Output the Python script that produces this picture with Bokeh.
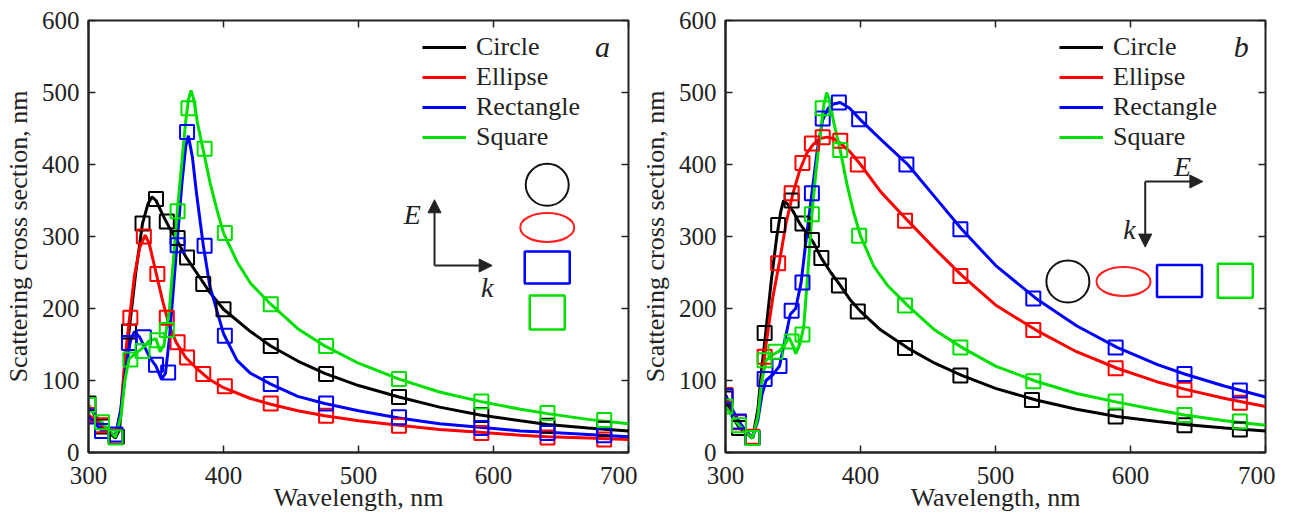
from bokeh.plotting import figure
from bokeh.layouts import row
from bokeh.models import (Range1d, LinearAxis, FixedTicker, Legend, LegendItem,
                          Label, Arrow, NormalHead)
from bokeh.embed import file_html
from bokeh.resources import INLINE

# ---------------- data: panel a ----------------
black_a_curve_x = [300, 305, 310, 315, 320, 323, 327, 330, 335, 340, 344, 347, 350, 355, 360, 365, 372, 380, 390, 400, 420, 435, 455, 475, 500, 530, 560, 590, 620, 640, 670, 700]
black_a_curve_y = [66, 50, 36, 28, 20, 32, 120, 168, 250, 318, 345, 355, 350, 330, 312, 297, 272, 250, 222, 199, 168, 148, 127, 110, 93, 77, 63, 52, 44, 39, 34, 30]
red_a_curve_x = [300, 305, 310, 315, 320, 324, 327, 330, 334, 338, 342, 345, 350, 355, 360, 365, 372, 380, 390, 400, 420, 435, 455, 475, 500, 530, 560, 590, 620, 640, 670, 700]
red_a_curve_y = [52, 45, 38, 30, 22, 60, 130, 180, 245, 285, 302, 290, 250, 210, 175, 153, 132, 117, 101, 90, 75, 67, 58, 51, 44, 38, 32, 28, 24, 22, 20, 18]
blue_a_curve_x = [300, 305, 310, 315, 320, 324, 328, 331, 334, 338, 342, 346, 350, 354, 357, 360, 363, 366, 369, 372, 374, 377, 380, 385, 390, 400, 410, 420, 435, 455, 475, 500, 530, 560, 590, 620, 640, 670, 700]
blue_a_curve_y = [50, 40, 30, 27, 24, 60, 120, 155, 168, 160, 145, 130, 120, 102, 110, 160, 230, 300, 370, 425, 440, 410, 360, 288, 230, 165, 128, 110, 95, 78, 68, 58, 48, 40, 35, 30, 28, 25, 22]
green_a_curve_x = [300, 305, 310, 315, 320, 324, 327, 330, 335, 340, 345, 350, 353, 356, 360, 363, 366, 369, 372, 374, 376, 378, 381, 385, 390, 395, 400, 410, 420, 435, 455, 475, 500, 530, 560, 590, 620, 640, 670, 700]
green_a_curve_y = [66, 52, 42, 32, 21, 50, 100, 130, 138, 145, 155, 158, 140, 150, 200, 270, 340, 400, 460, 490, 503, 490, 455, 420, 375, 338, 305, 265, 235, 206, 172, 148, 124, 102, 84, 71, 60, 54, 46, 40]

black_a_pts_x = [300, 310, 321, 330, 340, 350, 358, 366, 373, 385, 400, 435, 476, 530, 591, 640, 682]
black_a_pts_y = [68, 36, 22, 168, 318, 352, 321, 298, 271, 234, 199, 148, 109, 77, 52, 37, 33]
red_a_pts_x = [300, 310, 320, 331, 341, 351, 358, 366, 373, 385, 401, 435, 476, 530, 591, 640, 682]
red_a_pts_y = [52, 38, 22, 187, 300, 248, 187, 153, 132, 109, 92, 68, 51, 37, 27, 21, 18]
blue_a_pts_x = [300, 310, 320, 330, 341, 350, 359, 366, 373, 386, 401, 435, 476, 530, 591, 640, 682]
blue_a_pts_y = [50, 30, 25, 152, 160, 122, 111, 288, 445, 287, 162, 95, 68, 49, 34, 27, 24]
green_a_pts_x = [300, 310, 320, 331, 340, 351, 358, 366, 374, 386, 401, 435, 476, 530, 591, 640, 682]
green_a_pts_y = [66, 42, 21, 129, 141, 156, 170, 335, 478, 422, 305, 206, 148, 102, 71, 55, 45]

# ---------------- data: panel b ----------------
black_b_curve_x = [300, 305, 310, 315, 320, 324, 327, 330, 334, 338, 341, 343, 346, 350, 355, 360, 365, 371, 378, 385, 392, 400, 415, 435, 455, 475, 500, 530, 560, 590, 620, 640, 670, 700]
black_b_curve_y = [75, 50, 35, 27, 20, 60, 120, 170, 240, 300, 335, 350, 345, 335, 318, 305, 292, 270, 250, 232, 213, 196, 170, 145, 124, 107, 89, 73, 60, 50, 43, 39, 34, 30]
red_b_curve_x = [300, 305, 310, 315, 320, 324, 327, 330, 335, 340, 345, 350, 355, 360, 365, 370, 375, 380, 385, 392, 400, 415, 435, 455, 475, 500, 530, 560, 590, 620, 640, 670, 700]
red_b_curve_y = [80, 58, 42, 30, 20, 50, 100, 150, 215, 265, 320, 360, 392, 415, 428, 436, 438, 436, 430, 418, 400, 362, 322, 283, 246, 205, 170, 140, 117, 98, 88, 75, 64]
blue_b_curve_x = [300, 305, 310, 315, 320, 324, 327, 330, 335, 340, 345, 348, 352, 356, 360, 364, 368, 372, 376, 380, 385, 392, 400, 415, 435, 455, 475, 500, 530, 560, 590, 620, 640, 670, 700]
blue_b_curve_y = [80, 60, 43, 30, 20, 45, 80, 100, 108, 120, 165, 192, 200, 236, 300, 360, 420, 462, 478, 484, 486, 478, 462, 435, 400, 355, 310, 260, 214, 176, 146, 122, 109, 92, 77]
green_b_curve_x = [300, 305, 310, 315, 320, 324, 327, 330, 335, 340, 344, 347, 350, 352, 355, 358, 361, 364, 367, 370, 373, 375, 377, 380, 385, 390, 395, 400, 410, 420, 435, 455, 475, 500, 530, 560, 590, 620, 640, 670, 700]
green_b_curve_y = [64, 50, 38, 28, 20, 50, 100, 128, 136, 141, 150, 160, 148, 137, 150, 175, 250, 330, 390, 440, 485, 500, 490, 460, 420, 372, 333, 301, 258, 232, 204, 170, 146, 120, 99, 82, 70, 59, 52, 44, 38]

black_b_pts_x = [300, 310, 320, 329, 339, 349, 357, 364, 371, 384, 398, 433, 474, 527, 589, 640, 681]
black_b_pts_y = [75, 34, 20, 166, 316, 350, 318, 295, 270, 232, 196, 145, 107, 73, 50, 38, 32]
red_b_pts_x = [300, 310, 320, 329, 339, 349, 357, 364, 372, 385, 398, 433, 474, 528, 589, 640, 681]
red_b_pts_y = [80, 42, 22, 133, 263, 360, 402, 429, 438, 433, 400, 322, 245, 170, 117, 87, 69]
blue_b_pts_x = [300, 310, 320, 329, 340, 349, 357, 364, 372, 384, 399, 434, 474, 528, 589, 640, 681]
blue_b_pts_y = [78, 43, 20, 102, 120, 197, 236, 360, 464, 486, 463, 400, 310, 214, 146, 109, 86]
green_b_pts_x = [300, 310, 320, 329, 337, 349, 357, 364, 372, 385, 399, 433, 474, 528, 589, 640, 681]
green_b_pts_y = [64, 38, 20, 128, 140, 154, 164, 331, 478, 420, 301, 204, 146, 99, 71, 52, 43]

labels = ["Circle", "Ellipse", "Rectangle", "Square"]
colors = ["#000000", "#ff0000", "#0000ff", "#00e000"]
x_ticks = [300, 400, 500, 600, 700]
y_ticks = [0, 100, 200, 300, 400, 500, 600]

FONT = "Liberation Serif, serif"
TXT = "#222222"


def make_panel(curves, points, letter, left_border, right_border, deco):
    p = figure(width=10, height=10, frame_width=540, frame_height=432,
               x_range=Range1d(300, 700), y_range=Range1d(0, 600),
               output_backend="svg", toolbar_location=None,
               min_border_left=left_border, min_border_right=right_border,
               min_border_top=20, min_border_bottom=55)
    p.grid.visible = False
    p.outline_line_color = TXT
    p.outline_line_width = 2
    p.background_fill_color = "white"
    p.border_fill_color = "white"

    for ax in (p.xaxis[0], p.yaxis[0]):
        ax.major_tick_in = 7
        ax.major_tick_out = 0
        ax.minor_tick_line_color = None
        ax.axis_line_color = TXT
        ax.axis_line_width = 2
        ax.major_tick_line_color = TXT
        ax.major_tick_line_width = 1.5
        ax.major_label_text_font = FONT
        ax.major_label_text_font_size = "25px"
        ax.major_label_text_color = TXT
        ax.axis_label_text_font = FONT
        ax.axis_label_text_font_size = "26px"
        ax.axis_label_text_font_style = "normal"
        ax.axis_label_text_color = TXT
    p.xaxis[0].ticker = FixedTicker(ticks=x_ticks)
    p.yaxis[0].ticker = FixedTicker(ticks=y_ticks)
    p.xaxis[0].axis_label = "Wavelength, nm"
    p.yaxis[0].axis_label = "Scattering cross section, nm"
    p.xaxis[0].major_label_standoff = 14
    p.xaxis[0].axis_label_standoff = -4
    p.yaxis[0].major_label_standoff = 9
    p.yaxis[0].axis_label_standoff = 6

    for loc, tk in (("right", y_ticks), ("above", x_ticks)):
        ax = LinearAxis(ticker=FixedTicker(ticks=tk))
        ax.major_tick_in = 7
        ax.major_tick_out = 0
        ax.minor_tick_line_color = None
        ax.axis_line_color = None
        ax.major_tick_line_color = TXT
        ax.major_tick_line_width = 1.5
        ax.major_label_text_color = None
        ax.major_label_text_font_size = "0px"
        ax.major_label_standoff = 0
        p.add_layout(ax, loc)

    renderers = []
    for (cx, cy), c in zip(curves, colors):
        r = p.line(cx, cy, line_width=3, line_color=c)
        renderers.append(r)
    for (px, py), c in zip(points, colors):
        p.scatter(px, py, marker="square", size=14, fill_color=None,
                  line_color=c, line_width=2)

    legend = Legend(items=[LegendItem(label=l, renderers=[r]) for l, r in zip(labels, renderers)],
                    location=(334, 300), orientation="vertical",
                    glyph_width=44, glyph_height=30, label_height=30,
                    label_standoff=10, spacing=0, padding=0, margin=0,
                    border_line_color=None, background_fill_alpha=0,
                    label_text_font=FONT, label_text_font_size="26px",
                    label_text_color=TXT)
    p.add_layout(legend)

    lx, ly = deco["letter"]
    p.add_layout(Label(x=lx, y=ly, text=letter, text_font=FONT, text_font_size="30px",
                       text_font_style="italic", text_color=TXT,
                       text_align="center", text_baseline="middle"))
    for (x0, y0, x1, y1) in deco["arrows"]:
        p.add_layout(Arrow(x_start=x0, y_start=y0, x_end=x1, y_end=y1,
                           line_color=TXT, line_width=2,
                           end=NormalHead(size=13, fill_color=TXT, line_color=TXT)))
    for (tx, ty, t) in deco["texts"]:
        p.add_layout(Label(x=tx, y=ty, text=t, text_font=FONT, text_font_size="28px",
                           text_font_style="italic", text_color=TXT,
                           text_align="center", text_baseline="middle"))
    (cxx, cyy), (exx, eyy), (rxx, ryy), (sxx, syy) = deco["shapes"]
    p.ellipse(x=[cxx], y=[cyy], width=43, height=42, width_units="screen",
              height_units="screen", fill_color=None, line_color="#111111", line_width=2)
    p.ellipse(x=[exx], y=[eyy], width=54, height=29, width_units="screen",
              height_units="screen", fill_color=None, line_color="#ff2020", line_width=2)
    p.rect(x=[rxx], y=[ryy], width=45, height=32, width_units="screen",
           height_units="screen", fill_color=None, line_color="#0000ff", line_width=2.5)
    p.rect(x=[sxx], y=[syy], width=35, height=34, width_units="screen",
           height_units="screen", fill_color=None, line_color="#00e000", line_width=2.5)
    return p


deco_a = dict(letter=(680.7, 563.5),
              arrows=[(556.3, 259.7, 556.3, 351.0), (556.3, 259.7, 599.0, 259.7)],
              texts=[(539.8, 330.0, "E"), (595.3, 228.7, "k")],
              shapes=[(639.8, 371.8), (639.8, 312.5), (639.8, 256.8), (639.8, 194.3)])
deco_b = dict(letter=(682.0, 563.5),
              arrows=[(610.9, 376.4, 653.6, 376.4), (610.9, 376.4, 610.9, 285.3)],
              texts=[(638.5, 397.2, "E"), (599.3, 310.3, "k")],
              shapes=[(553.6, 237.5), (594.8, 237.5), (636.3, 238.2), (677.6, 238.5)])

p1 = make_panel([(black_a_curve_x, black_a_curve_y), (red_a_curve_x, red_a_curve_y),
                 (blue_a_curve_x, blue_a_curve_y), (green_a_curve_x, green_a_curve_y)],
                [(black_a_pts_x, black_a_pts_y), (red_a_pts_x, red_a_pts_y),
                 (blue_a_pts_x, blue_a_pts_y), (green_a_pts_x, green_a_pts_y)],
                "a", 82, 9, deco_a)
p2 = make_panel([(black_b_curve_x, black_b_curve_y), (red_b_curve_x, red_b_curve_y),
                 (blue_b_curve_x, blue_b_curve_y), (green_b_curve_x, green_b_curve_y)],
                [(black_b_pts_x, black_b_pts_y), (red_b_pts_x, red_b_pts_y),
                 (blue_b_pts_x, blue_b_pts_y), (green_b_pts_x, green_b_pts_y)],
                "b", 82, 10, deco_b)

layout = row(p1, p2)
open("out.html", "w").write(file_html(layout, INLINE))
